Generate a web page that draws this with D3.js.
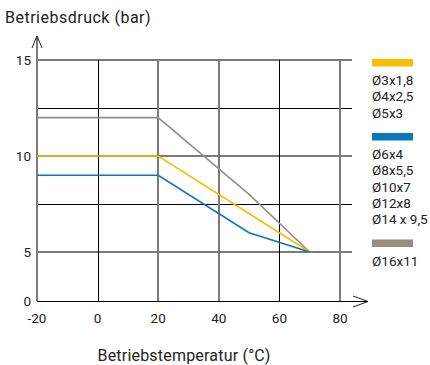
<!DOCTYPE html>
<html>
<head>
<meta charset="utf-8">
<script src="https://cdn.jsdelivr.net/npm/d3@7"></script>
<style>
  body { margin: 0; background: #fff; }
  svg text { font-family: "Roboto", "DejaVu Sans", sans-serif; fill: #222; }
</style>
</head>
<body>
<svg id="vis" width="430" height="365"></svg>
<script>
var vis = d3.select("#vis");

// data
var xTicks = [-20, 0, 20, 40, 60, 80];
var yTicks = [0, 5, 10, 15];
var yGrid = [5, 7.5, 10, 12.5, 15];

var seriesYellow = [[-20, 10], [20, 10], [70, 5]];
var seriesBlue = [[-20, 9], [20, 9], [50, 6], [70, 5]];
var seriesGray = [[-20, 12], [20, 12], [50, 8], [70, 5]];

var legendYellow = ["Ø3x1,8", "Ø4x2,5", "Ø5x3"];
var legendBlue = ["Ø6x4", "Ø8x5,5", "Ø10x7", "Ø12x8", "Ø14 x 9,5"];
var legendGray = ["Ø16x11"];

var colors = { yellow: "#fbbd00", blue: "#0a76bd", gray: "#958f80" };

// scales - y axis is broken: 0..5 squeezed
var x = d3.scaleLinear().domain([-20, 80]).range([37, 340]);
var y = d3.scaleLinear().domain([0, 5, 15]).range([301, 252, 60]);

// grid
vis.selectAll(".hgrid").data(yGrid).enter().append("line")
    .attr("x1", x(-20)).attr("x2", 352)
    .attr("y1", d => Math.round(y(d)) + (d % 5 == 0 ? 0 : 0.5))
    .attr("y2", d => Math.round(y(d)) + (d % 5 == 0 ? 0 : 0.5))
    .attr("stroke", d => d % 5 == 0 ? "#7a7a7a" : "#000")
    .attr("stroke-width", d => d % 5 == 0 ? 2 : 1);

var vx = [0, 20, 40, 60, 80];
vis.selectAll(".vgrid").data(vx).enter().append("line")
    .attr("x1", d => Math.round(x(d)) + ((d == 0 || d == 60) ? 0.5 : 0))
    .attr("x2", d => Math.round(x(d)) + ((d == 0 || d == 60) ? 0.5 : 0))
    .attr("y1", y(15)).attr("y2", y(0))
    .attr("stroke", d => (d == 0 || d == 60) ? "#000" : "#7a7a7a")
    .attr("stroke-width", d => (d == 0 || d == 60) ? 1 : 2);

// axes with arrows
vis.append("line")
    .attr("x1", x(-20)).attr("x2", x(-20))
    .attr("y1", y(0)).attr("y2", 36)
    .attr("stroke", "#7a7a7a").attr("stroke-width", 2);
vis.append("path")
    .attr("d", `M${x(-20) - 5},48 L${x(-20)},36 L${x(-20) + 5},48`)
    .attr("fill", "none").attr("stroke", "#222").attr("stroke-width", 1);

vis.append("line")
    .attr("x1", x(-20)).attr("x2", 368)
    .attr("y1", y(0) + 0.5).attr("y2", y(0) + 0.5)
    .attr("stroke", "#000").attr("stroke-width", 1);
vis.append("path")
    .attr("d", `M353,296 L368,${y(0) + 0.5} L353,307`)
    .attr("fill", "none").attr("stroke", "#222").attr("stroke-width", 1);

// tick labels
vis.selectAll(".ylab").data(yTicks).enter().append("text")
    .attr("x", 31).attr("y", d => y(d) + 5)
    .attr("text-anchor", "end").attr("font-size", "13.5px")
    .text(d => d);

vis.selectAll(".xlab").data(xTicks).enter().append("text")
    .attr("x", d => x(d)).attr("y", 323)
    .attr("text-anchor", "middle").attr("font-size", "13.5px")
    .text(d => d);

// titles
vis.append("text").attr("x", 5).attr("y", 23)
    .attr("font-size", "16px").attr("letter-spacing", "0.5px")
    .text("Betriebsdruck (bar)");
vis.append("text").attr("x", 184).attr("y", 361)
    .attr("text-anchor", "middle").attr("font-size", "16px")
    .attr("letter-spacing", "0.2px")
    .text("Betriebstemperatur (°C)");

// series
var line = d3.line().x(d => x(d[0])).y(d => y(d[1]));
[[seriesGray, colors.gray], [seriesYellow, colors.yellow], [seriesBlue, colors.blue]].forEach(s => {
    vis.append("path")
        .attr("d", line(s[0]))
        .attr("fill", "none")
        .attr("stroke", s[1])
        .attr("stroke-width", 1.6);
});

// legend
function legendBlock(top, color, labels) {
    vis.append("rect")
        .attr("x", 372).attr("y", top)
        .attr("width", 41).attr("height", 7.5)
        .attr("fill", color);
    labels.forEach((t, i) => {
        vis.append("text")
            .attr("x", 372).attr("y", top + 26 + i * 16.3)
            .attr("font-size", "13.5px").text(t);
    });
}
legendBlock(59, colors.yellow, legendYellow);
legendBlock(133, colors.blue, legendBlue);
legendBlock(239.5, colors.gray, legendGray);
</script>
</body>
</html>
